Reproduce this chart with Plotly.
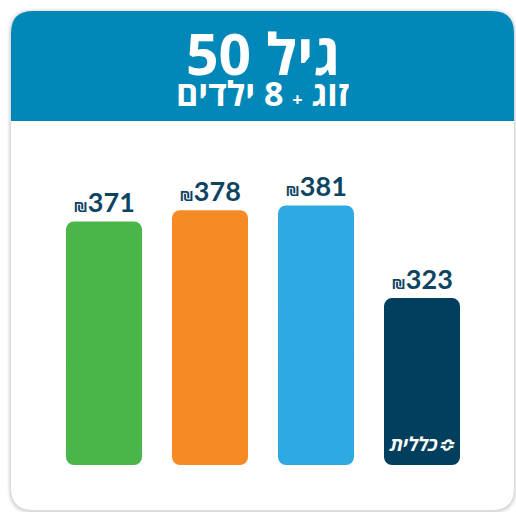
import plotly.graph_objects as go

# ---- data ----
categories = ["a", "b", "c", "d"]
values = [371, 378, 381, 323]
bar_colors = ["#4AB649", "#F68A24", "#2EA9E1", "#023F5E"]
label_prefix = "₪"
title_text = "גיל 50"
subtitle_text = "זוג <span style='font-size:18px'>+</span> 8 ילדים"
logo_text = "כללית≎"

# ---- layout constants ----
W, H = 516, 512
M = dict(l=51, r=41, t=150, b=47)
Y_FLOOR = 218.5
Y_TOP = 415.7
plot_w = W - M["l"] - M["r"]
plot_h = H - M["t"] - M["b"]


def p(x, y):
    return ((x - M["l"]) / plot_w, (H - M["b"] - y) / plot_h)


def rrect(x0, y0, x1, y1, rt, rb):
    def P(x, y):
        a, b = p(x, y)
        return f"{a:.5f},{b:.5f}"
    s = f"M {P(x0 + rt, y0)} L {P(x1 - rt, y0)} Q {P(x1, y0)} {P(x1, y0 + rt)} "
    s += f"L {P(x1, y1 - rb)} Q {P(x1, y1)} {P(x1 - rb, y1)} "
    s += f"L {P(x0 + rb, y1)} Q {P(x0, y1)} {P(x0, y1 - rb)} "
    s += f"L {P(x0, y0 + rt)} Q {P(x0, y0)} {P(x0 + rt, y0)} Z"
    return s


shapes = []
# shadow
for i, op in enumerate([0.025, 0.03, 0.04, 0.05]):
    e = 4 - i
    shapes.append(dict(type="path", xref="paper", yref="paper", layer="below",
                       path=rrect(11 - e, 12 - e, 514 + e, 511 + e, 22 + e, 22 + e),
                       fillcolor=f"rgba(0,0,0,{op})", line=dict(width=0)))
# card
shapes.append(dict(type="path", xref="paper", yref="paper", layer="below",
                   path=rrect(11, 11, 514, 510, 22, 22),
                   fillcolor="white", line=dict(width=0)))
# header
shapes.append(dict(type="path", xref="paper", yref="paper", layer="below",
                   path=rrect(11, 11, 514, 121, 22, 0),
                   fillcolor="#0288B8", line=dict(width=0)))

fig = go.Figure()
# lower part (rounded bottom corners)
lo_base = [Y_FLOOR + 0.6 * (v - Y_FLOOR) for v in values]
lo_len = [-0.6 * (v - Y_FLOOR) for v in values]
fig.add_trace(go.Bar(x=categories, y=lo_len, base=lo_base,
                     marker=dict(color=bar_colors, cornerradius=8, line=dict(width=0)),
                     hoverinfo="skip", showlegend=False))
# upper part (rounded top corners) + labels
hi_base = [Y_FLOOR + 0.4 * (v - Y_FLOOR) for v in values]
hi_len = [0.6 * (v - Y_FLOOR) for v in values]
labels = [f"<span style='font-size:17px'>{label_prefix}</span>{v}" for v in values]
fig.add_trace(go.Bar(x=categories, y=hi_len, base=hi_base,
                     marker=dict(color=bar_colors, cornerradius=8, line=dict(width=0)),
                     text=labels, textposition="outside", cliponaxis=False,
                     textfont=dict(family="Lato", size=27, color="#0C4462", weight="bold"),
                     hoverinfo="skip", showlegend=False))

annotations = []
tx, ty = p(262.5, 53)
annotations.append(dict(xref="paper", yref="paper", x=tx, y=ty, height=50,
                        text=f"<b>{title_text}</b>",
                        showarrow=False, xanchor="center", yanchor="middle", valign="middle",
                        font=dict(family="Open Sans", size=57, color="white")))
tx, ty = p(262.5, 93)
annotations.append(dict(xref="paper", yref="paper", x=tx, y=ty, height=30,
                        text=f"<b>{subtitle_text}</b>",
                        showarrow=False, xanchor="center", yanchor="middle", valign="middle",
                        font=dict(family="Open Sans", size=34, color="white")))
annotations.append(dict(x=categories[3], y=Y_FLOOR, yref="y", text=f"<b><i>{logo_text}</i></b>",
                        showarrow=False, xanchor="center", yanchor="bottom", yshift=6,
                        font=dict(family="Open Sans", size=19, color="white")))

fig.update_layout(
    width=W, height=H, margin=M,
    paper_bgcolor="white", plot_bgcolor="rgba(0,0,0,0)",
    barmode="overlay", bargap=1 - 76 / 106,
    xaxis=dict(visible=False),
    yaxis=dict(visible=False, range=[Y_FLOOR, Y_TOP]),
    shapes=shapes, annotations=annotations,
)
fig.write_html("out.html", post_script="document.body.style.margin='0';",
               config={"displayModeBar": False})
